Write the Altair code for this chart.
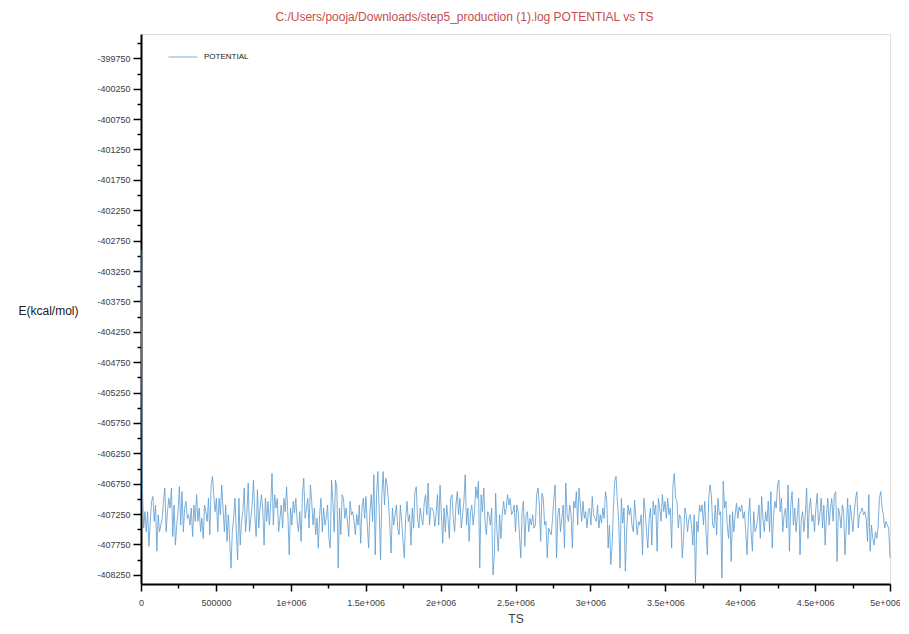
import altair as alt
import pandas as pd

TITLE = "C:/Users/pooja/Downloads/step5_production (1).log POTENTIAL vs TS"
SERIES = "POTENTIAL"
X_TITLE = "TS"
Y_TITLE = "E(kcal/mol)"
TS_START, TS_END = 0, 5000000

# Potential energy values (kcal/mol), in time order
POT_START = [-402900]
POT_SEG1 = [
    -406770, -407480, -407210, -407540, -407210, -407780, -407370, -407040, -406960, -407370,
    -407100, -407860, -407260, -407540, -407430, -407320, -407040, -406820, -407540, -407210,
    -406990, -407150, -406820, -407620, -407100, -407760, -407430, -407210, -406800, -407430,
    -406880, -407540, -407150, -407040, -407320, -407260, -407430, -407150, -407620, -407100,
    -407370, -406930, -407370, -407150, -407540, -407320, -407650, -407100, -407210, -407370,
    -406990, -407590, -406770, -406630, -406930, -407210, -406990, -407540, -406990, -407260,
    -406770, -407150, -407540, -407100, -407700, -407260, -407670, -408140, -407540, -407320,
    -406990, -407540, -408000, -406990, -407760, -407370, -407210, -406820, -407540, -407260,
    -406740, -407540, -407320, -407100, -406690, -407260, -407620, -406850, -407480, -407150,
    -406930, -407150, -407760, -406990, -407370, -407040, -407430, -407100, -406580, -407430,
    -406930, -407150, -406990, -407540, -407320, -407100, -407480, -406990, -407210, -406800,
    -407260, -407920, -407150, -407430, -407040, -407230, -406990, -407370, -407540, -407210,
    -407700, -406930, -406660, -407320, -407150, -406990, -407480, -406770, -407040, -407430,
    -407150, -407590, -407320, -407810, -407260, -406990, -407540, -407150, -407430, -407320,
    -407100,
]
POT_SEG2 = [
    -407650, -407810, -406690, -407040, -407540, -406690, -406820, -408140, -407150, -407590,
    -406930, -406990, -407320, -407150, -407370, -407620, -407040, -407260, -407210, -407370,
    -407590, -407260, -407430, -407100, -407730, -407150, -406990, -407320, -406960, -407430,
    -407810, -407210, -406930, -407370, -406600, -407920, -406930, -406550, -407210, -408000,
    -406930, -406550, -407100, -406660, -406770, -407040, -407430, -407890, -407150, -407430,
    -407260, -407100, -407480, -407590, -407100, -407370, -407700, -407970, -407320, -407040,
    -407370, -407260, -407760, -407150, -407480, -406880, -406800, -407320, -407480, -407150,
    -407320, -407430, -407070, -406930, -407260, -406740, -407430, -407150, -407150, -407210,
    -407450, -407260, -406930, -407430, -406770, -407260, -407730, -407150, -407540, -407100,
    -407320, -407650, -406990, -406930, -407320, -407540, -407100, -406880, -407260, -406990,
    -407480, -407260, -407040, -406600, -407430, -407150, -407700, -407210, -407100, -407430,
    -407210, -406800, -406990, -406710, -408140, -406930, -407210, -406820, -407370, -407590,
    -407210, -407260, -407430, -407150, -408250, -407920, -406910, -407540, -407860, -407260,
    -407650, -407260, -407040, -407260, -407150, -406930, -407100, -406990, -407260, -407210,
    -407100,
]
POT_SEG3 = [
    -407540, -407100, -407210, -407590, -407970, -407210, -407040, -407780, -407260, -407210,
    -407540, -407320, -407430, -407260, -407480, -407430, -406930, -406820, -407100, -407700,
    -406910, -406990, -407430, -407370, -407970, -407480, -407540, -407590, -407320, -406990,
    -406770, -407970, -407260, -407150, -407540, -407320, -407100, -407810, -406740, -407260,
    -407370, -407100, -407260, -407810, -407040, -407150, -406880, -407430, -406820, -407100,
    -407370, -407040, -407320, -407210, -407480, -407210, -407150, -407430, -406960, -407260,
    -407320, -407370, -407100, -407480, -407260, -407400, -407150, -407320, -406880, -407040,
    -407810, -407430, -408080, -407760, -407150, -406710, -406630, -407040, -407370, -408140,
    -406990, -407400, -407150, -408190, -407540, -407100, -407260, -407150, -407430, -407540,
    -407020, -407320, -407590, -407370, -407430, -407260, -407920, -406990, -407210, -407540,
    -407810, -407320, -407150, -407760, -407040, -407260, -407100, -407860, -406990, -407150,
    -407370, -406930, -407210, -407040, -407320, -406990, -407260, -407150, -407810, -406770,
    -406580, -406990, -407040, -407480, -407260, -407320, -407970, -407650, -407150, -407260,
    -407540, -407320, -407260, -407430, -407760, -407260, -408390, -407370, -407540, -407100,
    -407210,
]
POT_SEG4 = [
    -407100, -407430, -407040, -407540, -407920, -406990, -406770, -406930, -407430, -407480,
    -407100, -407590, -406990, -407260, -407210, -408300, -406710, -407150, -407040, -407430,
    -407650, -407260, -408030, -407210, -407540, -407260, -407070, -407320, -407130, -407210,
    -407100, -407320, -407210, -407540, -407920, -407320, -406990, -407540, -407860, -407210,
    -407540, -407480, -407320, -407100, -407650, -406960, -407320, -407540, -407210, -407370,
    -407040, -407540, -406880, -407810, -407260, -407040, -407150, -406770, -406690, -407210,
    -406990, -407540, -407260, -407150, -407480, -406770, -407860, -407100, -406880, -407430,
    -407150, -407540, -407260, -406990, -407920, -407320, -407210, -407540, -407260, -406820,
    -407650, -407150, -406990, -407370, -407260, -407540, -407150, -406910, -407430, -407260,
    -406990, -407480, -407100, -407760, -407260, -406990, -407430, -407150, -406990, -407370,
    -406930, -406880, -408030, -407150, -407260, -407480, -407100, -407210, -407920, -407430,
    -406990, -407590, -407100, -407320, -407540, -407210, -406990, -406880, -407480, -407260,
    -407210, -407150, -407260, -407210, -407320, -407700, -406930, -407860, -407430, -407650,
    -407760, -407540, -407650, -407480, -406990, -406880, -407150, -407260, -407480, -407370,
    -407430, -407480, -407970,
]

X_TICKS = [0, 500000, 1000000, 1500000, 2000000, 2500000, 3000000, 3500000, 4000000, 4500000, 5000000]
X_TICK_LABELS = ["0", "500000", "1e+006", "1.5e+006", "2e+006", "2.5e+006", "3e+006",
                 "3.5e+006", "4e+006", "4.5e+006", "5e+006"]
X_MINOR = [250000, 750000, 1250000, 1750000, 2250000, 2750000, 3250000, 3750000, 4250000, 4750000]
Y_TICKS = [-399750, -400250, -400750, -401250, -401750, -402250, -402750, -403250, -403750,
           -404250, -404750, -405250, -405750, -406250, -406750, -407250, -407750, -408250]
Y_MINOR = [-399500, -400000, -400500, -401000, -401500, -402000, -402500, -403000, -403500,
           -404000, -404500, -405000, -405500, -406000, -406500, -407000, -407500, -408000]
Y_DOMAIN = [-408400, -399350]

pot = POT_START + POT_SEG1 + POT_SEG2 + POT_SEG3 + POT_SEG4
n = len(pot)
step = (TS_END - TS_START) / (n - 1)
df = pd.DataFrame({
    "TS": [TS_START + i * step for i in range(n)],
    "E": pot,
    "series": [SERIES] * n,
})

x_label_expr = "''"
for v, lab in reversed(list(zip(X_TICKS, X_TICK_LABELS))):
    x_label_expr = f"datum.value == {v} ? '{lab}' : ({x_label_expr})"

x_major_test = " || ".join(f"datum.value == {v}" for v in X_TICKS)
y_major_test = " || ".join(f"datum.value == {v}" for v in Y_TICKS)
y_label_expr = f"({y_major_test}) ? ('' + datum.value) : ''"

FONT = "Liberation Sans"

x_axis = alt.Axis(
    values=sorted(X_TICKS + X_MINOR),
    labelExpr=x_label_expr,
    tickSize={"condition": {"test": x_major_test, "value": 7}, "value": 4},
    labelOffset={"condition": {"test": f"datum.value == {TS_END}", "value": -5}, "value": 0},
    tickColor="black", tickWidth=1.5,
    domainColor="black", domainWidth=2,
    labelFont=FONT, labelFontSize=9, labelColor="#404040", labelPadding=7,
    labelOverlap=False, labelFlush=False, labelBound=False,
    title=X_TITLE, titleFont=FONT, titleFontSize=12, titleFontWeight="normal",
    titleColor="#404040", titleY=34, titleBaseline="middle",
    grid=False,
)
y_axis = alt.Axis(
    values=sorted(Y_TICKS + Y_MINOR),
    labelExpr=y_label_expr,
    tickSize={"condition": {"test": y_major_test, "value": 8}, "value": 4},
    tickColor="black", tickWidth=1.5,
    domainColor="black", domainWidth=2,
    labelFont=FONT, labelFontSize=9, labelColor="#404040", labelPadding=3,
    labelOverlap=False, labelFlush=False, labelBound=False,
    title=Y_TITLE, titleFont=FONT, titleFontSize=12, titleFontWeight="normal",
    titleColor="#202020", titleAngle=0, titleAlign="left", titleBaseline="middle",
    titleX=-123, titleY=276,
    grid=False,
)

chart = alt.Chart(df).mark_line(strokeWidth=1, opacity=0.8).encode(
    x=alt.X("TS:Q", scale=alt.Scale(domain=[TS_START, TS_END], nice=False, zero=False), axis=x_axis),
    y=alt.Y("E:Q", scale=alt.Scale(domain=Y_DOMAIN, nice=False, zero=False), axis=y_axis),
    color=alt.Color(
        "series:N",
        scale=alt.Scale(domain=[SERIES], range=["#5b9bd0"]),
        legend=alt.Legend(
            title=None, orient="none", legendX=27, legendY=8, padding=0,
            symbolType="stroke", symbolSize=841, symbolStrokeWidth=1,
            labelFont=FONT, labelFontSize=8, labelColor="#202020", labelOffset=6,
        ),
    ),
).properties(
    width=749,
    height=550,
    autosize=alt.AutoSizeParams(type="none"),
    padding={"left": 133, "top": 26, "right": 10, "bottom": 40},
    title=alt.TitleParams(
        TITLE, color="#c44e4e", fontSize=12, font=FONT, fontWeight="normal",
        anchor="middle", dx=-51, offset=10,
    ),
).configure_view(
    stroke="black", strokeWidth=2,
).configure(background="white")

chart.save("out.html", embed_options={"renderer": "svg", "actions": False})
